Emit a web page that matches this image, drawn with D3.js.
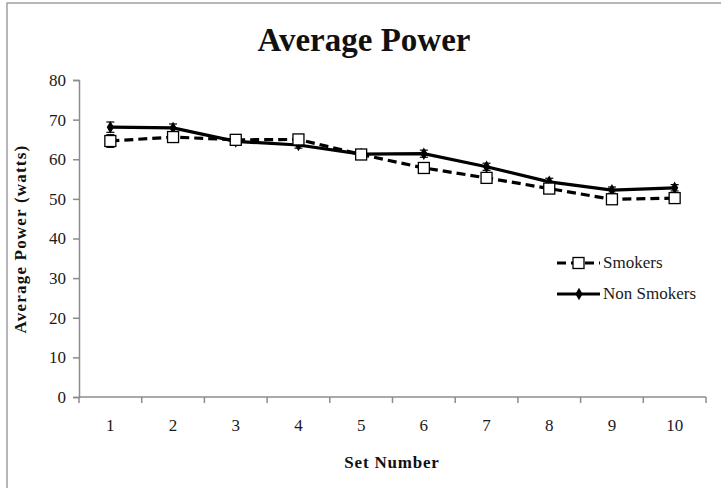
<!DOCTYPE html>
<html><head><meta charset="utf-8">
<script src="https://cdn.jsdelivr.net/npm/d3@7/dist/d3.min.js"></script>
<style>body{margin:0;background:#fff}svg{display:block}</style>
</head><body>
<svg id="c" width="721" height="488"></svg>
<script>
const sets = [1,2,3,4,5,6,7,8,9,10];
const smokers = [64.6,65.6,64.9,65.0,61.2,57.8,55.3,52.6,49.9,50.2];
const smokersErr = [1.6,1.2,0.9,0.8,0.8,0.8,0.9,0.9,1.0,0.9];
const nonSmokers = [68.1,67.9,64.5,63.6,61.3,61.4,58.1,54.3,52.2,52.8];
const nonSmokersErr = [1.3,1.0,0.8,0.8,0.7,0.9,0.9,0.9,0.8,0.8];
const yTicks = [0,10,20,30,40,50,60,70,80];
const seriesNames = ["Smokers","Non Smokers"];

const svg = d3.select("#c");
const serif = "'Liberation Serif','DejaVu Serif',serif";
svg.append("rect").attr("x",7).attr("y",3).attr("width",730).attr("height",500)
  .attr("fill","#fff").attr("stroke","#a0a0a0").attr("stroke-width",1.5);

const x = d3.scaleBand().domain(sets).range([79,706]);
const y = d3.scaleLinear().domain([0,80]).range([397,80]);

const gy = svg.append("g").attr("transform","translate(79,0)")
  .call(d3.axisLeft(y).tickValues(yTicks).tickSize(6).tickPadding(7));
const gx = svg.append("g").attr("transform","translate(0,397)")
  .call(d3.axisBottom(x).tickSize(0).tickPadding(22));
gx.selectAll(".bt").data(sets.concat([11])).enter().append("line")
  .attr("x1",(d,i)=> i<10 ? x(d) : x(10)+x.bandwidth()).attr("x2",(d,i)=> i<10 ? x(d) : x(10)+x.bandwidth())
  .attr("y1",0).attr("y2",6).attr("stroke","#8c8c8c").attr("stroke-width",1.5);
[gx,gy].forEach(g=>{
  g.selectAll("path,line").attr("stroke","#8c8c8c").attr("stroke-width",1.5);
  g.selectAll("text").attr("font-family",serif).attr("font-size",17).attr("fill","#1a1a1a");
});
gx.select(".domain").attr("d","M79,0H706");

const cx = d => x(d)+x.bandwidth()/2;
const line = d3.line().x((d,i)=>cx(sets[i])).y(d=>y(d));

function errBars(vals, errs){
  const g = svg.append("g").attr("stroke","#000").attr("stroke-width",1.2);
  vals.forEach((v,i)=>{
    const X = cx(sets[i]);
    g.append("line").attr("x1",X).attr("x2",X).attr("y1",y(v-errs[i])).attr("y2",y(v+errs[i]));
    [v-errs[i], v+errs[i]].forEach(e=>g.append("line").attr("x1",X-4).attr("x2",X+4).attr("y1",y(e)).attr("y2",y(e)));
  });
}
errBars(smokers, smokersErr);
errBars(nonSmokers, nonSmokersErr);

svg.append("path").datum(smokers).attr("d",line).attr("fill","none").attr("stroke","#000")
  .attr("stroke-width",3.2).attr("stroke-dasharray","9,5");
svg.append("path").datum(nonSmokers).attr("d",line).attr("fill","none").attr("stroke","#000")
  .attr("stroke-width",3.2);

const diamond = d3.symbol().type(d3.symbolDiamond).size(45);
svg.append("g").selectAll("path").data(nonSmokers).enter().append("path")
  .attr("d",diamond).attr("transform",(d,i)=>`translate(${cx(sets[i])},${y(d)})`).attr("fill","#000");
svg.append("g").selectAll("rect").data(smokers).enter().append("rect")
  .attr("x",(d,i)=>cx(sets[i])-5.5).attr("y",d=>y(d)-5.5).attr("width",11).attr("height",11)
  .attr("fill","#fff").attr("stroke","#000").attr("stroke-width",1.3);

// legend
const lg = svg.append("g");
const ly = [263, 294];
lg.append("line").attr("x1",557).attr("x2",600).attr("y1",ly[0]).attr("y2",ly[0])
  .attr("stroke","#000").attr("stroke-width",3.2).attr("stroke-dasharray","9,5");
lg.append("rect").attr("x",573).attr("y",ly[0]-5.5).attr("width",11).attr("height",11)
  .attr("fill","#fff").attr("stroke","#000").attr("stroke-width",1.3);
lg.append("line").attr("x1",557).attr("x2",600).attr("y1",ly[1]).attr("y2",ly[1])
  .attr("stroke","#000").attr("stroke-width",3.2);
lg.append("path").attr("d",diamond).attr("transform",`translate(579,${ly[1]})`).attr("fill","#000");
lg.selectAll("text").data(seriesNames).enter().append("text")
  .attr("x",603).attr("y",(d,i)=>ly[i]+5).text(d=>d)
  .attr("font-family",serif).attr("font-size",17).attr("fill","#1a1a1a");

svg.append("text").attr("x",364).attr("y",51).attr("text-anchor","middle")
  .attr("font-family",serif).attr("font-weight","bold").attr("font-size",33).attr("fill","#111")
  .text("Average Power");
svg.append("text").attr("x",392).attr("y",468).attr("text-anchor","middle")
  .attr("font-family",serif).attr("font-weight","bold").attr("font-size",17).attr("fill","#111")
  .attr("letter-spacing",0.8).text("Set Number");
svg.append("text").attr("transform","translate(26,239) rotate(-90)").attr("text-anchor","middle")
  .attr("font-family",serif).attr("font-weight","bold").attr("font-size",17).attr("fill","#111")
  .attr("letter-spacing",1.2).text("Average Power (watts)");
</script>
</body></html>
